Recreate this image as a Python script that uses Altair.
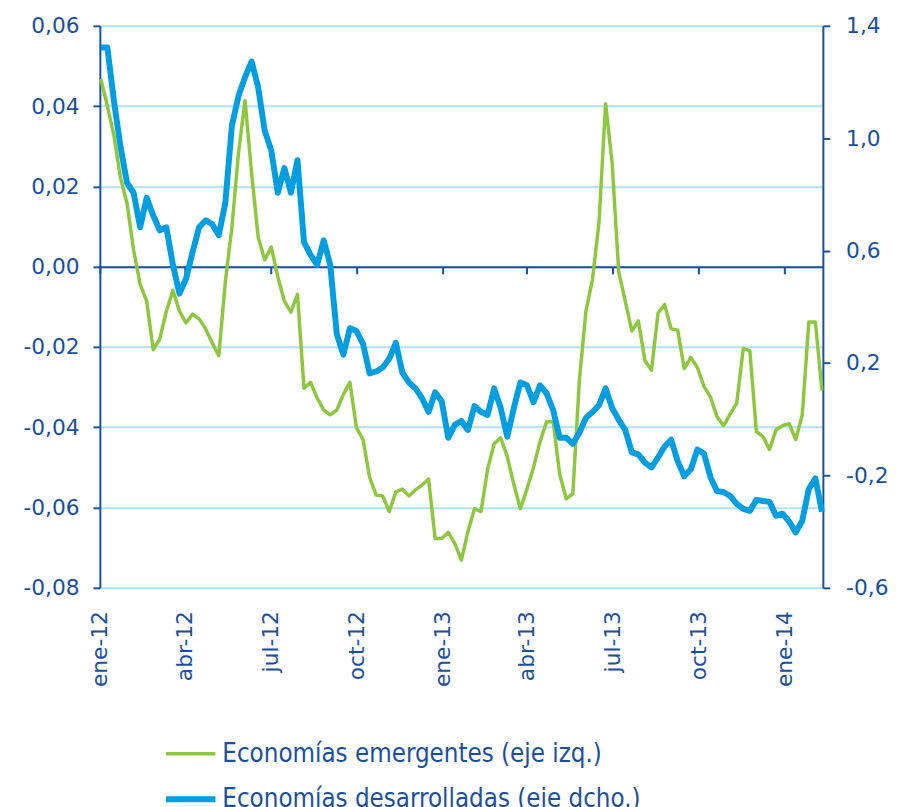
import altair as alt
import pandas as pd

# Weekly observations starting first week of January 2012
fechas = pd.date_range("2012-01-02", periods=111, freq="7D").strftime("%Y-%m-%d").tolist()

emergentes = [
    0.0468, 0.0401, 0.0327, 0.0222, 0.0158, 0.0042, -0.0044, -0.0086, -0.0207, -0.0180,
    -0.0111, -0.0059, -0.0111, -0.0140, -0.0118, -0.0130, -0.0155, -0.0190, -0.0222, -0.0037,
    0.0098, 0.0283, 0.0414, 0.0234, 0.0074, 0.0017, 0.0049, -0.0025, -0.0086, -0.0113,
    -0.0069, -0.0303, -0.0288, -0.0327, -0.0357, -0.0369, -0.0357, -0.0318, -0.0288, -0.0401,
    -0.0431, -0.0524, -0.0569, -0.0571, -0.0610, -0.0561, -0.0554, -0.0571, -0.0556, -0.0544,
    -0.0529, -0.0677, -0.0677, -0.0662, -0.0689, -0.0731, -0.0660, -0.0603, -0.0610, -0.0505,
    -0.0441, -0.0426, -0.0473, -0.0542, -0.0603, -0.0554, -0.0500, -0.0436, -0.0386, -0.0386,
    -0.0517, -0.0578, -0.0566, -0.0283, -0.0111, -0.0032, 0.0111, 0.0406, 0.0258, -0.0012,
    -0.0086, -0.0160, -0.0135, -0.0234, -0.0258, -0.0116, -0.0094, -0.0155, -0.0158, -0.0254,
    -0.0226, -0.0251, -0.0298, -0.0325, -0.0374, -0.0396, -0.0367, -0.0340, -0.0204, -0.0209,
    -0.0411, -0.0423, -0.0455, -0.0406, -0.0396, -0.0391, -0.0431, -0.0369, -0.0138, -0.0138, -0.0308,
]

desarrolladas = [
    1.323, 1.323, 1.133, 0.971, 0.841, 0.806, 0.683, 0.788, 0.725, 0.672,
    0.683, 0.549, 0.447, 0.500, 0.595, 0.683, 0.708, 0.694, 0.655, 0.771,
    1.045, 1.150, 1.217, 1.273, 1.182, 1.027, 0.957, 0.806, 0.894, 0.806,
    0.922, 0.630, 0.585, 0.549, 0.637, 0.549, 0.303, 0.230, 0.324, 0.314,
    0.268, 0.163, 0.170, 0.184, 0.215, 0.272, 0.166, 0.131, 0.110, 0.075,
    0.026, 0.096, 0.064, -0.066, -0.020, -0.006, -0.038, 0.047, 0.026, 0.015,
    0.110, 0.040, -0.062, 0.040, 0.131, 0.121, 0.061, 0.121, 0.092, 0.033,
    -0.066, -0.066, -0.087, -0.048, 0.005, 0.026, 0.050, 0.110, 0.040, -0.002,
    -0.038, -0.118, -0.125, -0.154, -0.171, -0.136, -0.097, -0.073, -0.150, -0.203,
    -0.178, -0.108, -0.122, -0.206, -0.256, -0.259, -0.273, -0.301, -0.319, -0.326,
    -0.287, -0.291, -0.294, -0.343, -0.336, -0.364, -0.403, -0.361, -0.248, -0.210, -0.329,
]

series = ["Economías emergentes (eje izq.)", "Economías desarrolladas (eje dcho.)"]
colores = ["#8DC63F", "#009EE0"]
grosores = [3.5, 6]

left_ticks = [-0.08, -0.06, -0.04, -0.02, 0.0, 0.02, 0.04, 0.06]
right_ticks = [-0.6, -0.2, 0.2, 0.6, 1.0, 1.4]
x_ticks = [(2012, 1), (2012, 4), (2012, 7), (2012, 10), (2013, 1), (2013, 4), (2013, 7), (2013, 10), (2014, 1)]

df_em = pd.DataFrame({"fecha": fechas, "valor": emergentes, "serie": series[0]})
df_de = pd.DataFrame({"fecha": fechas, "valor": desarrolladas, "serie": series[1]})

AX = "#1B4F9C"
GRID = "#B3E2F5"
FONT = "DejaVu Sans"

W, H = 727, 569
zero_offset = -round(H * 0.08 / 0.14)

num_expr_2 = "replace(replace(format(datum.value, '.2f'), '.', ','), '\u2212', '-')"
num_expr_1 = "replace(replace(format(datum.value, '.1f'), '.', ','), '\u2212', '-')"
month_expr = ("['ene','feb','mar','abr','may','jun','jul','ago','sep','oct','nov','dic']"
              "[utcmonth(datum.value)] + '-' + utcFormat(datum.value, '%y')")

x_enc = alt.X(
    "fecha:T",
    scale=alt.Scale(type="utc",
                    domain=[alt.DateTime(year=2012, month=1, date=1, utc=True),
                            alt.DateTime(year=2014, month=2, date=11, utc=True)]),
    axis=alt.Axis(
        values=[alt.DateTime(year=y, month=m, date=1, utc=True) for y, m in x_ticks],
        labelExpr=month_expr, labelAngle=-90, labelAlign="right", labelBaseline="middle",
        labelFont=FONT, labelFontSize=22, labelColor=AX,
        offset=zero_offset, labelPadding=-zero_offset + 16,
        domainColor=AX, domainWidth=2, tickColor=AX, tickWidth=2, tickSize=7,
        grid=False, title=None,
    ),
)

color_enc = alt.Color("serie:N", scale=alt.Scale(domain=series, range=colores),
                      legend=alt.Legend(title=None))
width_enc = alt.StrokeWidth("serie:N", scale=alt.Scale(domain=series, range=grosores),
                            legend=alt.Legend(title=None))

em = alt.Chart(df_em).mark_line(strokeJoin="round").encode(
    x=x_enc,
    y=alt.Y("valor:Q", scale=alt.Scale(domain=[-0.08, 0.06], nice=False, zero=False),
            axis=alt.Axis(values=left_ticks, labelExpr=num_expr_2, orient="left",
                          labelFont=FONT, labelFontSize=22, labelColor=AX, labelPadding=14,
                          domainColor=AX, domainWidth=2, tickColor=AX, tickWidth=2, tickSize=7,
                          grid=True, gridColor=GRID, gridWidth=2, title=None)),
    color=color_enc,
    strokeWidth=width_enc,
)

de = alt.Chart(df_de).mark_line(strokeJoin="round").encode(
    x=x_enc,
    y=alt.Y("valor:Q", scale=alt.Scale(domain=[-0.6, 1.4], nice=False, zero=False),
            axis=alt.Axis(values=right_ticks, labelExpr=num_expr_1, orient="right",
                          labelFont=FONT, labelFontSize=22, labelColor=AX, labelPadding=16,
                          domainColor=AX, domainWidth=2, tickColor=AX, tickWidth=2, tickSize=7,
                          grid=False, title=None)),
    color=color_enc,
    strokeWidth=width_enc,
)

chart = alt.layer(em, de).resolve_scale(y="independent").properties(
    width=W + 5, height=H,
    padding={"left": 15, "top": 2, "right": 5, "bottom": 5},
).configure_view(stroke=None).configure_legend(
    orient="none", legendX=64, legendY=710, direction="vertical",
    symbolType="stroke", symbolSize=2500, rowPadding=5, labelOffset=4, padding=0,
    labelFont="DejaVu Sans Condensed", labelFontSize=26, labelColor=AX, labelLimit=700,
)

chart.save("out.html", embed_options={"renderer": "svg", "actions": False})
